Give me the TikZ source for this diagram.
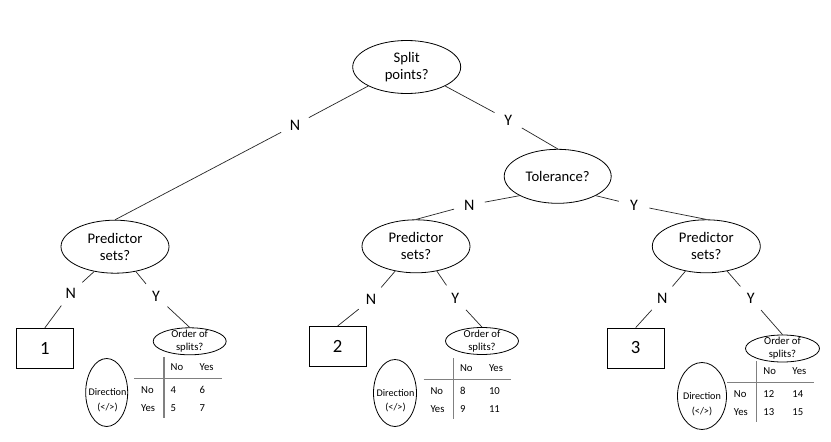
\documentclass[tikz,border=0pt]{standalone}
\usepackage{fontspec}
\setmainfont{Carlito}
\usetikzlibrary{shapes.geometric}
\tikzset{
  bigell/.style={ellipse, draw, line width=0.8pt, inner sep=0pt, align=center,
    minimum width=108pt, minimum height=53pt, font=\fontsize{14.67}{17.2}\selectfont},
  ordell/.style={ellipse, draw, line width=0.8pt, inner sep=0pt, minimum width=73pt, minimum height=27pt},
  direll/.style={ellipse, draw, line width=0.8pt, inner sep=0pt},
  smalltxt/.style={inner sep=0pt, align=center, font=\fontsize{10.67}{13.4}\selectfont},
  dirtxt/.style={inner sep=0pt, align=center, font=\fontsize{10.2}{14.6}\selectfont},
  numbox/.style={draw, line width=0.8pt, minimum width=57pt, minimum height=40pt, inner sep=0pt,
    font=\fontsize{18.67}{22}\selectfont},
  yn/.style={circle, inner sep=0pt, minimum size=31pt, font=\fontsize{16}{19}\selectfont},
  conn/.style={line width=0.7pt, draw=black!85},
  tabline/.style={line width=1.4pt, draw=black!50},
  cell/.style={anchor=base west, yshift=-3.4pt, inner sep=0pt, font=\fontsize{10.67}{13}\selectfont},
}
\newcommand\mytab[7]{%
  \begin{scope}[shift={(#2,#3)}]
    \coordinate (#1vt) at (0,-21.4);
    \coordinate (#1vb) at (0,39.5);
    \coordinate (#1hl) at (-29.7,0);
    \coordinate (#1hr) at (57.5,0);
    \draw[tabline] (#1vt) -- (#1vb);
    \draw[tabline] (#1hl) -- (#1hr);
    \node[cell] (#1c1) at (6.5,-11.3) {No};
    \node[cell] (#1c2) at (35.5,-11.3) {Yes};
    \node[cell] (#1r1) at (-23,11) {No};
    \node[cell] (#1r2) at (-23,29.3) {Yes};
    \node[cell] (#1a) at (6.5,11) {#4};
    \node[cell] (#1b) at (35.5,11) {#5};
    \node[cell] (#1c) at (6.5,29.3) {#6};
    \node[cell] (#1d) at (35.5,29.3) {#7};
  \end{scope}}
\begin{document}
\begin{tikzpicture}[x=1pt,y=-1pt]
\path[fill=white, use as bounding box] (0,0) rectangle (831,442);

% main ellipses
\node[bigell] (split) at (406.7,67) {Split\\points?};
\node[bigell, minimum width=107pt, minimum height=54pt] (tol) at (557.7,176.3) {Tolerance?};
\node[bigell] (pred1) at (115,246.7) {Predictor\\sets?};
\node[bigell] (pred2) at (416,246.3) {Predictor\\sets?};
\node[bigell] (pred3) at (706.3,246.3) {Predictor\\sets?};

% leaf boxes
\node[numbox] (box1) at (44.8,348.3) {1};
\node[numbox] (box2) at (337.5,346.5) {2};
\node[numbox] (box3) at (635.7,348) {3};

% order-of-splits ellipses
\node[ordell] (ord1) at (189.7,341.3) {};
\node[smalltxt] (ord1t) at (189.7,341) {Order of\\splits?};
\node[ordell] (ord2) at (482,341) {};
\node[smalltxt] (ord2t) at (482,341) {Order of\\splits?};
\node[ordell, minimum width=74pt] (ord3) at (782.5,348.5) {};
\node[smalltxt] (ord3t) at (782.5,348.3) {Order of\\splits?};

% direction ellipses
\node[direll, minimum width=42pt, minimum height=68pt] (dir1) at (106.7,392.5) {};
\node[dirtxt] (dir1t) at (107.5,400) {Direction\\(</>)};
\node[direll, minimum width=43pt, minimum height=67pt] (dir2) at (395,393) {};
\node[dirtxt] (dir2t) at (395.5,400.5) {Direction\\(</>)};
\node[direll, minimum width=49pt, minimum height=67pt] (dir3) at (702,396) {};
\node[dirtxt] (dir3t) at (702,404) {Direction\\(</>)};

% tables
\mytab{ta}{164}{378.7}{4}{6}{5}{7}
\mytab{tb}{453.3}{379.7}{8}{10}{9}{11}
\mytab{tc}{756.7}{382.7}{12}{14}{13}{15}

% Y/N labels
\node[yn] (nA) at (295,125) {N};
\node[yn] (yA) at (508.3,120) {Y};
\node[yn] (nB) at (469.3,205) {N};
\node[yn] (yB) at (634,205) {Y};
\node[yn] (n1) at (70.7,293) {N};
\node[yn] (y1) at (156,296) {Y};
\node[yn] (n2) at (371,299.3) {N};
\node[yn] (y2) at (455.3,298.3) {Y};
\node[yn] (n3) at (662.3,298.3) {N};
\node[yn] (y3) at (750.7,298.3) {Y};

% connectors
\draw[conn] (split.south west) -- (nA) -- (pred1.north);
\draw[conn] (split.south east) -- (yA) -- (tol.north);
\draw[conn] (tol.south west) -- (nB) -- (pred2.north);
\draw[conn] (tol.south east) -- (yB) -- (pred3.north);
\draw[conn] (pred1.230) -- (n1) -- (box1.north);
\draw[conn] (pred1.310) -- (y1) -- (ord1.north);
\draw[conn] (pred2.230) -- (n2) -- (box2.north);
\draw[conn] (pred2.310) -- (y2) -- (ord2.north);
\draw[conn] (pred3.230) -- (n3) -- (box3.north);
\draw[conn] (pred3.310) -- (y3) -- (ord3.north);
\end{tikzpicture}
\end{document}
